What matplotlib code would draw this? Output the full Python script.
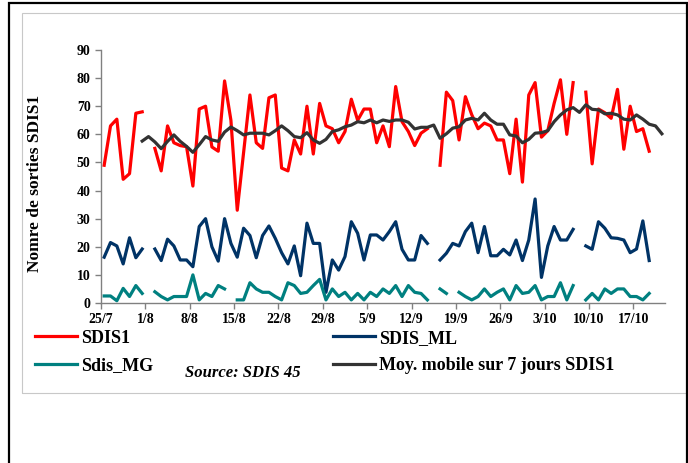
import numpy as np
import matplotlib
matplotlib.use('Agg')
import matplotlib.pyplot as plt
from matplotlib.patches import Rectangle

nan = np.nan

# one value per day, from 25/7 to 21/10 (89 days)
sdis1 = [49, 63, 65.4, 44, 46, 67.5, 68,
         nan, 55, 47, 63, 57, 56, 55.6,
         41.6, 69, 70, 55.5, 54, 79, 65,
         33, 53.5, 74, 57, 55, 73, 74,
         48, 47, 58, 53, 70, 53, 71,
         63, 62, 57, 61, 72.5, 65, 69,
         69, 57, 63, 55.6, 77, 64.5, 61,
         56, 60.4, 62, nan, 49, 75, 72,
         58, 73.4, 67, 62, 64, 63, 58,
         58, 46, 65.4, 43, 74, 78.4, 59,
         61.3, 71, 79.4, 60, 78.4, nan, 75,
         49.5, 69, 67.7, 65.7, 76, 54.7, 70,
         61, 62, 54, nan, nan]

sdis_ml = [16.3, 21.5, 20.3, 13.9, 23.2, 16.1, 19.2,
           nan, 19.2, 15.1, 22.7, 20.3, 15.3, 15.3,
           12.9, 27.2, 30, 20, 14.9, 30, 21.2,
           16.3, 26.6, 24, 16.1, 24, 27.4, 23,
           17.9, 13.9, 20.3, 9.7, 28.4, 21.2, 21.2,
           3.8, 15.3, 11.7, 16.5, 28.9, 24.8, 15.3,
           24.2, 24.2, 22.4, 25.4, 28.9, 19.1, 15.3,
           15.3, 24, 21.2, nan, 15.3, 17.7, 21.2,
           20.3, 25.4, 28.4, 17.9, 27.2, 16.8, 16.8,
           19.1, 17.1, 22.4, 15.1, 22.4, 37, 9.1,
           20.3, 27.2, 22.4, 22.4, 26.2, nan, 20.3,
           19.1, 28.9, 26.6, 23.2, 23, 22.4, 17.9,
           19.2, 29.2, 15.1, nan, nan]

sdis_mg = [2.5, 2.5, 0.8, 5.2, 2.3, 6.2, 3.4,
           nan, 4, 2.3, 1.1, 2.3, 2.3, 2.3,
           10, 1.1, 3.4, 2.3, 6.2, 5, nan,
           1.1, 1.1, 7.2, 5, 3.8, 3.8, 2.3,
           1.1, 7.2, 6.2, 3.4, 3.8, 6.2, 8.4,
           1.1, 5, 2.3, 3.8, 1.1, 3.4, 1.1,
           3.8, 2.3, 5, 3.4, 6.2, 2.3, 6.2,
           3.8, 3.4, 1.1, nan, 5, 3.4, nan,
           3.8, 2.3, 1.1, 2.3, 5, 2.3, 3.8,
           5, 1.1, 6.2, 3.4, 3.8, 6.2, 1.1,
           2.3, 2.3, 7.2, 1.1, 6.2, nan, 1.1,
           3.4, 1.1, 5, 3.4, 5, 5, 2.3,
           2.3, 1.1, 3.4, nan, nan]

moy7 = [nan, nan, nan, nan, nan, nan, 57.6,
        59.2, 57.3, 54.9, 57.5, 59.8, 57.5, 55.7,
        53.6, 56.3, 59.2, 58, 57.5, 60.8, 62.6,
        61.3, 59.8, 60.4, 60.4, 60.4, 59.8, 61.3,
        63, 61.3, 59.2, 58.8, 60.6, 58, 56.8,
        58.2, 61, 61.6, 62.7, 63.3, 64.5, 64.1,
        65.1, 64.1, 65.1, 64.6, 65.1, 65.1, 64.3,
        61.9, 62.5, 62.5, 63.3, 58.6, 60.2, 62.2,
        62.7, 65.1, 65.7, 65.1, 67.5, 65.1, 63.6,
        63.6, 59.8, 59.4, 57, 58.2, 60.4, 60.6,
        61.3, 64.5, 66.9, 68.7, 69.5, 67.8, 70.5,
        68.9, 68.7, 67.3, 67.5, 66.9, 65.4, 65.1,
        66.9, 65.4, 63.6, 63, 60.2]

tick_labels = ['25/7', '1/8', '8/8', '15/8', '22/8', '29/8', '5/9',
               '12/9', '19/9', '26/9', '3/10', '10/10', '17/10']

days = np.arange(len(sdis1))

plt.rcParams['font.family'] = ['Liberation Serif', 'DejaVu Serif']
plt.rcParams['font.weight'] = 'bold'

fig = plt.figure(figsize=(6.88, 4.63), dpi=100)
ax = fig.add_axes([0.1468, 0.3456, 0.8198, 0.5464])

lw = 2.3
ax.plot(days, sdis1, color='#ff0000', lw=lw, label='SDIS1')
ax.plot(days, sdis_ml, color='#003366', lw=lw, label='SDIS_ML')
ax.plot(days, sdis_mg, color='#008080', lw=lw, label='Sdis_MG')
ax.plot(days, moy7, color='#333333', lw=lw, label='Moy. mobile sur 7 jours SDIS1')

ax.set_xlim(-0.5, len(days) - 0.5)
ax.set_ylim(0, 90)
ax.set_yticks(range(0, 91, 10))
ax.set_xticks(np.arange(len(tick_labels)) * 7 - 0.5)
ax.set_xticklabels(tick_labels)
ax.tick_params(axis='both', labelsize=10, color='#808080', length=4, width=1)
ax.tick_params(axis='x', pad=3)
for s in ['top', 'right']:
    ax.spines[s].set_visible(False)
for s in ['left', 'bottom']:
    ax.spines[s].set_color('#808080')
    ax.spines[s].set_linewidth(1)

ax.set_ylabel('Nomre de sorties SDIS1', fontsize=12.5, fontweight='bold')
ax.yaxis.set_label_coords(-0.103, 0.474)

h, l = ax.get_legend_handles_labels()
kw = dict(loc='upper left', frameon=False, fontsize=13, handlelength=2.3,
          handletextpad=0.25, labelspacing=0.6, borderpad=0, borderaxespad=0)
fig.legend([h[0], h[2]], [l[0], l[2]], bbox_to_anchor=(0.051, 0.288), **kw)
fig.legend([h[1], h[3]], [l[1], l[3]], bbox_to_anchor=(0.484, 0.288), **kw)

fig.text(0.269, 0.194, 'Source: SDIS 45', fontsize=12, fontweight='bold',
         fontstyle='italic', va='center', ha='left')

# frames
fig.patches.append(Rectangle((22 / 688, 1 - 393 / 463), 700 / 688, 380 / 463,
                             transform=fig.transFigure, fill=False,
                             edgecolor='#c8c8c8', lw=0.8))
fig.patches.append(Rectangle((8.5 / 688, -0.05), 678 / 688, 1.05 - 3.5 / 463,
                             transform=fig.transFigure, fill=False,
                             edgecolor='black', lw=1.6))

fig.savefig('out.png', dpi=100)
